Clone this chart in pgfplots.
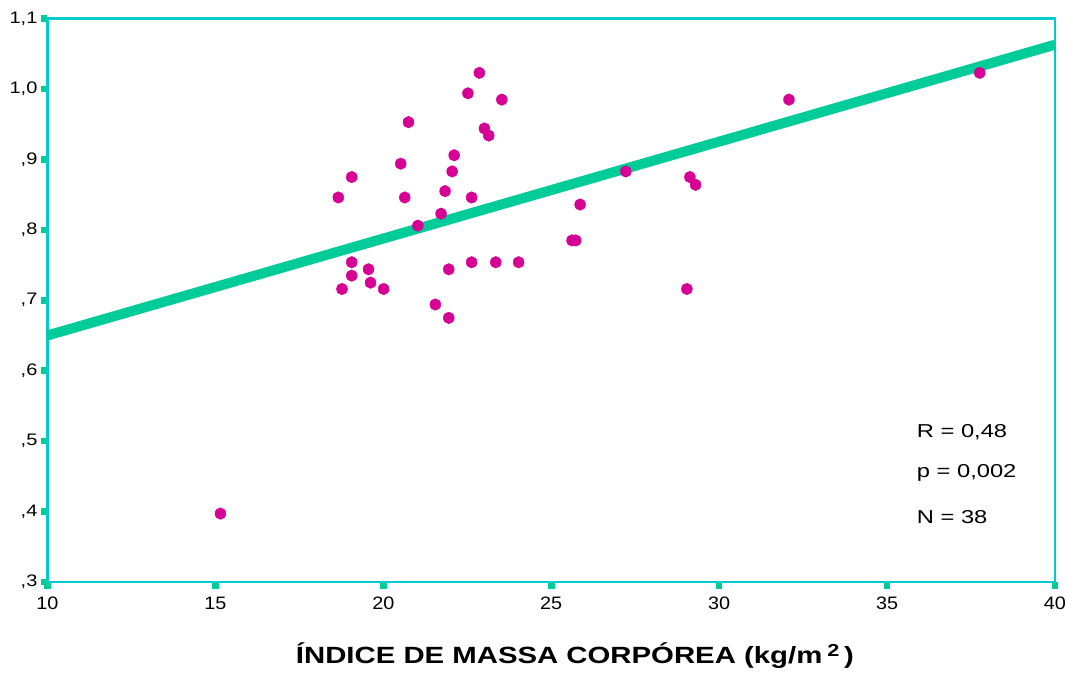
\documentclass[border=0pt]{standalone}
\usepackage{pgfplots}
\pgfplotsset{compat=1.18}
\usepackage{graphicx}
\usepackage{fontspec}
\setmainfont{Liberation Sans}
\definecolor{framecyan}{RGB}{0,204,204}
\definecolor{fitgreen}{RGB}{0,204,153}
\definecolor{ptmag}{RGB}{214,0,148}
\newcommand\xs[1]{\scalebox{1.1}[1]{#1}}
\newcommand\ys[1]{\scalebox{1.2}[1]{#1}}
\newcommand\as[1]{\scalebox{1.27}[1]{#1}}
\begin{document}
\begin{tikzpicture}
\useasboundingbox (-35.6pt,-69.8pt) rectangle (766.9pt,436.4pt);
\begin{axis}[
  at={(0,0)}, anchor=south west,
  scale only axis,
  width=755.6pt, height=422.4pt,
  xmin=10, xmax=40, ymin=0.3, ymax=1.1,
  clip=false,
  axis line style={framecyan, line width=1.8pt},
  tick pos=left,
  tick align=outside,
  major tick length=5pt,
  every tick/.style={fitgreen, line width=5pt},
  xtick={10,15,20,25,30,35,40},
  xticklabels={\xs{10},\xs{15},\xs{20},\xs{25},\xs{30},\xs{35},\xs{40}},
  ytick={0.3,0.4,0.5,0.6,0.7,0.8,0.9,1.0,1.1},
  yticklabels={\ys{,3},\ys{,4},\ys{,5},\ys{,6},\ys{,7},\ys{,8},\ys{,9},\ys{1,0},\ys{1,1}},
  xticklabel style={font=\fontsize{13.5}{15}\selectfont, text=black, yshift=-3pt},
  yticklabel style={font=\fontsize{12.5}{14}\selectfont, text=black, xshift=1pt},
]
\addplot[only marks, mark=*, mark size=4.3pt, mark options={xscale=0.94, fill=ptmag, draw=ptmag}] coordinates {
(22.86,1.023) (22.52,0.994) (23.53,0.985) (20.75,0.953) (23.01,0.944)
(23.14,0.934) (22.11,0.906) (20.52,0.894) (22.05,0.883) (19.06,0.875)
(21.84,0.855) (18.66,0.846) (20.64,0.846) (22.63,0.846) (21.72,0.823)
(21.03,0.806) (25.86,0.836) (25.62,0.785) (25.73,0.785) (19.06,0.754)
(22.63,0.754) (23.35,0.754) (24.03,0.754) (19.56,0.744) (21.95,0.744)
(19.06,0.735) (19.62,0.725) (18.77,0.716) (20.01,0.716) (21.55,0.694)
(21.95,0.675) (32.08,0.985) (29.13,0.875) (29.30,0.864) (29.04,0.716)
(27.22,0.883) (15.15,0.397) (37.76,1.023)
};
\addplot[fitgreen, line width=7.5pt] coordinates {(10,0.650) (40,1.063)};
\node[anchor=west, font=\fontsize{14}{16}\selectfont] at (axis cs:35.75,0.513) {\as{R = 0,48}};
\node[anchor=west, font=\fontsize{14}{16}\selectfont] at (axis cs:35.75,0.455) {\as{p = 0,002}};
\node[anchor=west, font=\fontsize{14}{16}\selectfont] at (axis cs:35.75,0.392) {\as{N = 38}};
\node[font=\fontsize{17.6}{20}\bfseries\selectfont] at (rel axis cs:0.5236,0) [yshift=-55pt] {\scalebox{1.25}[1]{ÍNDICE DE MASSA CORPÓREA (kg/m\,\raisebox{0.55ex}{\fontsize{13}{14}\selectfont 2}\,)}};
\end{axis}
\end{tikzpicture}
\end{document}
